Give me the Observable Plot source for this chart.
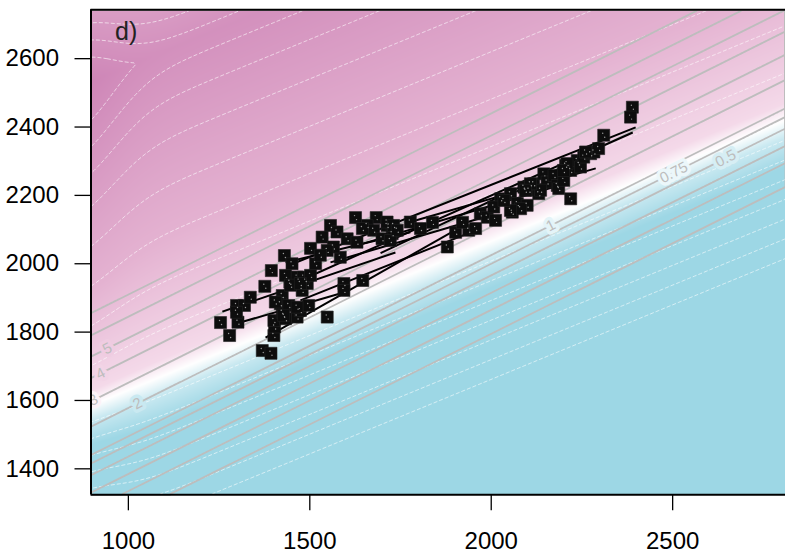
<!DOCTYPE html>
<html><head><meta charset="utf-8">
<script src="https://cdn.jsdelivr.net/npm/d3@7"></script>
<script src="https://cdn.jsdelivr.net/npm/@observablehq/plot@0.6"></script>
<style>body{margin:0;background:#fff;} #chart svg{display:block;}</style>
</head><body><div id="chart"></div>
<script>
// axes
const xDomain = [897, 2811];
const yDomain = [1324, 2743];
const xTicks = [1000, 1500, 2000, 2500];
const yTicks = [1400, 1600, 1800, 2000, 2200, 2400, 2600];

// observations
const ptX = [1254,1279,1302,1298,1320,1298,1369,1393,1401,1403,1401,1424,1419,1424,1445,1465,1474,1497,1433,1479,1493,1376,1394,1430,1451,1433,1465,1483,1502,1447,1474,1516,1584,1594,1594,1646,1548,1683,1557,1575,1534,1603,1658,1676,1713,1727,1699,1630,1565,1548,1405,1442,1465,1428,1777,1879,1938,1957,1970,1989,2012,2026,2007,2053,2072,2058,2099,2104,2090,2117,2131,2145,2154,2173,2182,2186,2205,2219,2200,2219,2237,2246,2255,2274,2283,1713,1731,1722,1741,2389,2384,2310,2260,2209,2199,2136,2081,2053,2035,2108,2094,1805,1838,1902,1921,1626,1645,1502,1529,1336,2296];
const ptY = [1828,1790,1829,1878,1878,1858,1746,1738,1790,1815,1834,1907,1883,1858,1946,1844,1863,1878,1839,1922,1942,1934,1980,2024,2000,1966,1961,1961,1966,1937,1942,2000,2019,1942,1922,1951,1844,2135,2112,2093,2078,2073,2112,2098,2112,2088,2073,2063,2049,2039,1888,1878,1873,1849,2122,2049,2098,2103,2146,2136,2127,2190,2166,2205,2176,2151,2171,2215,2224,2234,2205,2263,2239,2258,2229,2220,2288,2273,2244,2190,2302,2283,2312,2322,2327,2122,2112,2068,2098,2458,2429,2376,2327,2293,2273,2215,2161,2156,2185,2234,2215,2103,2121,2092,2121,2135,2103,2045,2025,1902,2337];

// fitted lines (start / end)
const segX1 = [1259,1317,1378,1441,1474,1777,1474,1557,1612,1433,1695];
const segY1 = [1860,1831,1784,1995,1951,2122,1893,2004,2048,2004,2031];
const segX2 = [1736,1584,1924,2398,2390,2288,1943,1970,2191,1777,2282];
const segY2 = [2033,1913,2112,2399,2384,2279,2092,2133,2230,2092,2326];

// grey contour levels (intercept of y - slope*x) and their labels
const greySlope = 0.53;
const greyLevels = [735, 805, 855, 906, 940, 965, 1048, 1122, 1190, 1253, 1315, 1380];
const labelText = ["0.5", "0.75", "1", "2", "3", "4", "5"];
const labelX = [2646, 2503, 2164, 1025, 903, 923, 942];
const labelY = [2308, 2267, 2112, 1591, 1601, 1679, 1752];

// background surface
const ridgeA = 2141, ridgeB = 0.436, whiteOffset = 947, kUp = 1.55, peakX = 840, peakS = 150, peakDrop = 0.18;
function field(x, y) {
  const w = ridgeA + ridgeB * x - y;
  const h = w >= 0 ? 1 - w / whiteOffset : 1 - kUp * (-w) / whiteOffset;
  const m = 1 - peakDrop * (1 - Math.exp(-(((x - peakX) / peakS) ** 2)));
  return h * m;
}
const colorDomain = [-0.12, -0.045, 0, 0.045, 0.35, 1];
const colorRange = ["#9dd7e5", "#c9e9f1", "#ffffff", "#f4d9e9", "#e4b2d1", "#cd84b6"];
const whiteLevels = [-0.35, -0.3, -0.25, -0.2, -0.15, -0.1, -0.05, 0.12, 0.24, 0.36, 0.48, 0.6, 0.7, 0.78, 0.86];

const points = ptX.map((x, i) => ({x, y: ptY[i]}));
const segs = segX1.map((x1, i) => ({x1, y1: segY1[i], x2: segX2[i], y2: segY2[i]}));
const labels = labelText.map((t, i) => ({t, x: labelX[i], y: labelY[i]}));
const bounds = {x1: xDomain[0], x2: xDomain[1], y1: yDomain[0], y2: yDomain[1]};

const chart = Plot.plot({
  width: 785, height: 555,
  marginLeft: 90.5, marginRight: 0, marginTop: 9.3, marginBottom: 60.7,
  style: {fontFamily: "'Liberation Sans', Arial, sans-serif", fontSize: "24px", background: "white", color: "black"},
  x: {domain: xDomain, axis: null},
  y: {domain: yDomain, axis: null},
  color: {type: "linear", domain: colorDomain, range: colorRange, clamp: true},
  marks: [
    Plot.raster({fill: field, ...bounds, pixelSize: 1}),
    Plot.contour({value: field, ...bounds, thresholds: whiteLevels, stroke: "white", fill: "none", strokeOpacity: 0.75, strokeWidth: 0.8, strokeDasharray: "4 2", pixelSize: 2}),
    Plot.contour({value: (x, y) => y - greySlope * x, ...bounds, thresholds: greyLevels, stroke: "#bdbdbd", fill: "none", strokeWidth: 1.8, pixelSize: 2}),
    Plot.text(labels, {x: "x", y: "y", text: "t", rotate: -27, fontSize: 15, fill: "#bdbdbd", stroke: d => field(d.x, d.y), strokeWidth: 7, clip: true}),
    Plot.link(segs, {x1: "x1", y1: "y1", x2: "x2", y2: "y2", stroke: "black", strokeWidth: 2}),
    Plot.dot(points, {x: "x", y: "y", symbol: "square", r: 6.8, fill: "#0d0d0d", stroke: "#222", strokeWidth: 0.6}),
    Plot.dot(points, {x: "x", y: "y", r: 0.7, fill: "#9a9a9a", dx: -1, dy: -2}),
    Plot.dot(points, {x: "x", y: "y", r: 0.7, fill: "#9a9a9a", dx: 1, dy: 2}),
    Plot.ruleX([xDomain[0]], {stroke: "black", strokeWidth: 2}),
    Plot.ruleY([yDomain[0], yDomain[1]], {stroke: "black", strokeWidth: 2}),
    Plot.axisX({ticks: xTicks, tickFormat: d3.format("d"), tickSize: 16, tickPadding: 21, fontSize: 24, strokeWidth: 1.3, label: null}),
    Plot.axisY({ticks: yTicks, tickFormat: d3.format("d"), tickSize: 16, tickPadding: 16, fontSize: 24, strokeWidth: 1.3, label: null}),
    Plot.text(["d)"], {frameAnchor: "top-left", dx: 24, dy: 12, fontSize: 25, fill: "#222", textAnchor: "start", lineAnchor: "top"})
  ]
});
document.getElementById("chart").append(chart);
</script>
</body></html>
